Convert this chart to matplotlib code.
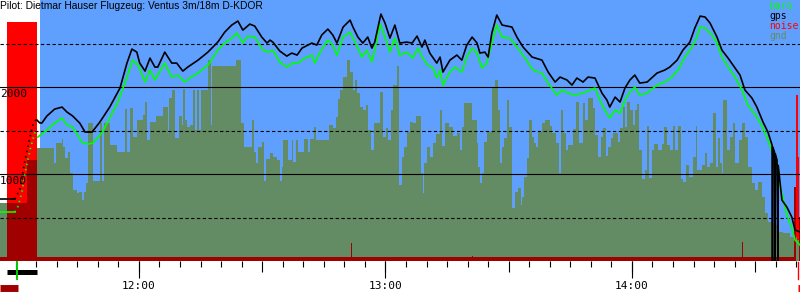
import numpy as np
import matplotlib
matplotlib.use("Agg")
import matplotlib.pyplot as plt
import matplotlib.transforms as mtrans
from matplotlib.ticker import FixedLocator, MultipleLocator, FuncFormatter, NullFormatter

# times are minutes after 12:00, altitudes in metres
title = "Pilot: Dietmar Hauser Flugzeug: Ventus 3m/18m D-KDOR"

gps_t = [-33.8, -30.2, -29.0, -27.7, -26.5, -25.8, -25.1, -24.8, -24.1, -23.6, -22.4, -20.5,
         -18.7, -17.5, -16.1, -14.4, -13.1, -11.4, -9.5, -7.1, -4.6, -2.9, -1.7, -0.5, 0.2, 1.5,
         2.7, 3.9, 4.6, 6.3, 8.0, 9.2, 10.7, 11.9, 14.4, 16.8, 19.2, 20.9, 22.6, 24.1, 25.3, 27.0,
         28.2, 29.9, 31.2, 31.9, 32.6, 34.3, 36.0, 37.2, 38.5, 39.7, 42.1, 43.3, 44.5, 46.0, 47.2,
         48.2, 49.7, 51.4, 52.1, 53.3, 54.5, 55.7, 56.7, 57.4, 58.9, 59.9, 61.1, 62.3, 63.5, 65.2,
         66.5, 67.7, 68.9, 69.6, 70.8, 72.5, 73.3, 74.0, 75.7, 77.4, 78.6, 79.8, 81.1, 82.3, 83.0,
         84.2, 85.0, 85.9, 87.1, 88.4, 90.8, 92.0, 93.5, 95.7, 98.1, 99.6, 101.3, 102.5, 104.2,
         105.4, 106.6, 108.1, 109.3, 111.0, 112.7, 113.9, 114.6, 115.9, 117.1, 118.3, 119.5, 120.7,
         121.9, 123.7, 126.1, 128.0, 129.2, 131.0, 132.4, 134.1, 135.3, 136.6, 137.8, 139.0, 140.7,
         141.9, 143.4, 145.1, 146.3, 147.5, 149.2, 150.4, 151.9, 153.1, 154.1, 154.2, 154.3, 154.7,
         154.8, 154.9, 155.3, 155.5, 155.6, 156.5, 157.7, 158.9, 159.7, 160.9]
gps_alt = [712, 712, 816, 1160, 1425, 1563, 1620, 1620, 1586, 1586, 1666, 1746,
           1769, 1712, 1666, 1586, 1482, 1482, 1597, 1769, 1988, 2275, 2436, 2401, 2275, 2183,
           2332, 2229, 2229, 2401, 2275, 2275, 2183, 2229, 2309, 2401, 2516, 2631, 2712, 2758, 2654, 2723,
           2700, 2574, 2505, 2539, 2516, 2413, 2355, 2390, 2367, 2447, 2505, 2482, 2597, 2666, 2597,
           2505, 2689, 2769, 2689, 2574, 2505, 2574, 2447, 2516, 2838, 2735, 2562, 2712, 2505, 2516,
           2505, 2585, 2459, 2539, 2390, 2275, 2344, 2172, 2309, 2367, 2309, 2482, 2574, 2505, 2390,
           2401, 2344, 2620, 2827, 2712, 2689, 2574, 2459, 2344, 2309, 2172, 2057, 2114, 2080,
           2022, 2103, 2057, 2114, 2103, 1930, 1850, 1769, 1884, 1827, 1988, 2080, 2137,
           2045, 2057, 2160, 2195, 2229, 2309, 2424, 2516, 2677, 2815, 2804, 2735, 2574,
           2424, 2332, 2218, 2137, 1965, 1873, 1769, 1597, 1482, 1333, 0, 1310, 1250,
           0, 1230, 1160, 0, 1100, 701, 620, 506, 356, 333]

baro_t = [-33.8, -30.2, -29.5, -28.5, -27.7, -26.5, -25.3, -24.6, -22.4, -20.5, -18.7, -17.5,
          -16.1, -13.9, -12.4, -11.2, -9.0, -7.1, -5.1, -2.9, -1.5, -0.2, 1.5, 2.7, 3.9, 5.6, 6.3,
          8.0, 9.5, 11.2, 12.4, 14.4, 16.8, 19.2, 20.9, 22.6, 23.9, 25.3, 26.5, 28.2, 30.2, 31.4,
          32.6, 34.3, 36.0, 37.5, 38.7, 40.4, 42.1, 42.8, 44.1, 46.0, 47.2, 48.2, 49.7, 51.4, 52.6,
          54.3, 55.5, 56.7, 57.4, 58.7, 59.9, 61.1, 62.3, 63.5, 65.2, 66.7, 67.9, 69.1, 70.3, 71.6,
          72.5, 73.3, 74.0, 75.7, 76.9, 78.6, 79.8, 81.1, 82.3, 83.5, 84.7, 85.9, 87.1, 88.4, 90.3,
          92.0, 94.0, 95.9, 98.1, 99.6, 101.7, 103.0, 104.4, 106.1, 108.1, 109.8, 111.0, 112.2,
          113.4, 114.6, 115.9, 117.1, 118.3, 119.5, 120.7, 121.9, 123.7, 126.1, 128.0, 129.7, 131.2,
          132.9, 134.6, 135.8, 136.6, 137.8, 139.5, 140.7, 141.9, 143.4, 145.1, 146.8, 148.2, 150.4,
          151.9, 153.6, 154.8, 156.0, 157.7, 158.9, 159.7, 160.9]
baro_alt = [563, 563, 620, 781, 1011, 1275, 1482, 1425, 1505, 1586, 1643, 1563,
            1540, 1367, 1344, 1356, 1471, 1643, 1827, 2114, 2309, 2252, 2057, 2195, 2080, 2218, 2275,
            2114, 2137, 2057, 2103, 2160, 2252, 2424, 2505, 2562, 2620, 2505, 2585, 2574, 2424, 2401,
            2424, 2287, 2229, 2275, 2275, 2332, 2367, 2275, 2401, 2539, 2482, 2367, 2574, 2631, 2516,
            2344, 2424, 2287, 2424, 2723, 2574, 2401, 2562, 2367, 2401, 2332, 2447, 2332, 2252, 2218,
            2103, 2195, 2022, 2172, 2229, 2172, 2344, 2447, 2390, 2218, 2275, 2505, 2712, 2574, 2562,
            2459, 2332, 2195, 2160, 2045, 1907, 1965, 1930, 1907, 1930, 1965, 1988, 1850,
            1735, 1643, 1735, 1700, 1850, 1942, 1999, 1907, 1930, 2022, 2057, 2114, 2195,
            2344, 2459, 2574, 2689, 2677, 2597, 2505, 2344, 2229, 2114, 1965, 1792, 1655,
            1528, 1330, 1160, 873, 529, 379, 241, 184]

# ground elevation below the track, stepwise (start time of each step)
gnd_t = [-33.8, -27.3, -24.8, -20.7, -20.2, -18.7, -18.5, -18.0, -17.3, -16.8, -16.1, -15.1, -14.6,
         -13.9, -13.4, -12.9, -12.4, -11.2, -9.5, -9.0, -8.5, -7.1, -5.4, -3.4, -2.9, -2.2, -1.5,
         -0.5, 1.0, 1.5, 1.9, 2.7, 4.1, 5.8, 7.1, 7.3, 8.0, 8.8, 9.7, 10.5, 10.7, 11.2, 11.7, 12.4,
         13.1, 13.6, 14.1, 14.6, 15.1, 16.8, 17.5, 17.8, 23.6, 24.8, 25.6, 27.5, 28.0, 28.5, 29.0,
         29.9, 30.4, 30.9, 31.9, 32.6, 33.6, 34.3, 34.8, 35.0, 36.3, 37.2, 37.5, 38.2, 38.7, 40.2,
         41.1, 41.6, 42.6, 43.1, 46.2, 47.2, 47.9, 48.4, 48.9, 49.7, 50.6, 51.4, 52.1, 52.6, 53.1,
         53.8, 54.5, 55.3, 55.7, 56.5, 57.2, 58.7, 59.4, 60.1, 60.6, 61.3, 61.8, 62.8, 63.3, 64.0,
         64.5, 65.2, 66.0, 66.7, 67.4, 68.6, 69.1, 69.4, 70.1, 70.8, 71.6, 72.3, 73.3, 73.7, 74.5,
         75.5, 76.4, 77.4, 78.1, 78.6, 79.1, 81.1, 82.3, 82.5, 83.0, 83.5, 84.0, 84.7, 85.9, 86.7,
         87.4, 87.9, 88.4, 88.8, 89.6, 90.1, 90.8, 91.5, 92.2, 93.0, 93.2, 93.7, 94.4, 94.9, 95.7,
         96.1, 96.6, 97.1, 98.1, 98.8, 100.0, 100.5, 101.5, 102.2, 102.7, 103.2, 103.9, 104.4,
         105.6, 106.4, 107.1, 108.1, 108.6, 109.3, 110.5, 111.0, 111.7, 112.5, 112.9, 113.7, 114.2,
         114.9, 115.4, 116.6, 117.1, 117.8, 118.3, 118.8, 119.5, 120.2, 120.7, 121.2, 121.7, 122.4,
         123.2, 123.6, 124.1, 124.9, 125.4, 126.3, 127.3, 127.8, 128.5, 129.2, 130.0, 130.5, 131.2,
         131.9, 132.4, 133.1, 133.9, 134.8, 135.6, 135.8, 137.0, 137.8, 138.3, 139.0, 139.7, 140.4,
         140.9, 141.4, 141.9, 142.1, 143.1, 143.8, 144.6, 145.1, 146.0, 146.8, 147.5, 148.2, 149.2,
         149.9, 150.7, 151.6, 152.4, 153.1, 154.1, 155.3, 156.8, 158.5, 160.2]
gnd_alt = [667, 1160, 1298, 1126, 1356, 1402, 1310, 1183, 1252, 1011, 816, 781, 793,
           701, 793, 896, 1586, 919, 1586, 919, 1586, 1333, 1252, 1746, 1252, 1758, 1425,
           1620, 1678, 1827, 1390, 1597, 1666, 1769, 1471, 1873, 1965, 1413, 1666, 1563, 1976, 1620, 1540, 1563,
           1965, 1505, 1965, 1505, 1965, 2309, 1563, 2241, 2309, 1586, 1310, 1620, 1252, 1126, 1310,
           1367, 919, 1172, 1241, 1195, 1160, 919, 1080, 1390, 1160, 1390, 1137, 1390, 1252, 1402,
           1252, 1402, 1540, 1390, 1563, 1528, 1655, 1861, 1965, 2114, 2309, 2172, 1965, 2080, 1930,
           1769, 1735, 1792, 1505, 1275, 1586, 1942, 1425, 1528, 1390, 1735, 2022, 2241, 873, 1195,
           1310, 1482, 1597, 1586, 1666, 1011, 781, 1126, 1310, 1195, 1356, 1459, 1735, 1321, 1586,
           1540, 1436, 1471, 1275, 1540, 1815, 1620, 1356, 1080, 896, 1011, 1367, 1482, 1999, 2080,
           1735, 1126, 1310, 1413, 1850, 1540, 609, 793, 839, 643, 735, 965, 1183, 1620, 1425,
           1356, 1310, 1482, 1586, 1620, 1551, 1471, 1356, 1011, 1735, 1471, 1275, 1333,
           1517, 1827, 1356, 1815, 1620, 1873, 1758, 1448, 1195, 1425, 1528, 1206, 1310,
           1413, 1471, 1367, 1528, 1769, 1540, 1827, 1735, 1563, 1735, 1804, 1275, 942,
           1046, 1551, 954, 1275, 1344, 1275, 1344, 1540, 1333, 1275, 1551, 1275, 1551,
           942, 908, 1103, 965, 1195, 1551, 1046, 1103, 1241, 1080, 1126, 1701, 1080,
           1413, 1126, 1011, 1850, 1275, 1425, 1586, 1126, 1390, 1586, 1425, 1080, 896,
           816, 908, 735, 552, 448, 414, 333, 322, 276, 241]

# engine noise level (0..1000), stepwise
noise_t = [-33.8, -32.1, -24.8, 32.8, 33.0, 51.7, 51.9, 81.0, 81.2, 146.9, 147.1, 159.5,
           160.0, 160.3, 160.5, 160.7]
noise_val = [15, 916, 15, 23, 15, 69, 15, 19, 15, 73, 15, 283, 636, 283, 398, 170]

t_start, t_end = -33.8, 160.9
sky_start = -24.1          # blue sky from here on
climb = (-30.2, -24.8)     # sparse fixes during the engine climb
takeoff_t = -29.7
log_bar = (-33.8, -29.4)
landing_t = 160.4
noise_limit = 300          # above this the noise is drawn bright red
levels_solid = [1000, 2000]
levels_dashed = [500, 1500, 2500]
alt_max = 3000

sky = "#5fa0ff"
gnd_col = "#648c64"
dark_red = "#a00000"
mono = "DejaVu Sans Mono"

fig = plt.figure(figsize=(8, 3), dpi=100)
ax = fig.add_axes([0, 39 / 300, 1, 261 / 300])
ax.set_xlim(t_start, t_end)
ax.set_ylim(0, alt_max)
for s in ax.spines.values():
    s.set_visible(False)
ax.set_yticks([])

ax.axvspan(sky_start, t_end, color=sky, lw=0, zorder=0)

# noise, bright part behind the ground
nt = np.append(noise_t, t_end)
nv = np.append(noise_val, noise_val[-1]) * alt_max / 1000.0
loud = np.where(nv > noise_limit * alt_max / 1000.0, nv, 0)
quiet = np.where(nv > noise_limit * alt_max / 1000.0, 0, nv)
ax.fill_between(nt, 0, loud, step="post", color="#ff0000", lw=0, zorder=1)

gt = np.append(gnd_t, t_end)
ga = np.append(gnd_alt, gnd_alt[-1])
ax.fill_between(gt, 0, ga, step="post", color=gnd_col, lw=0, zorder=2)

# ground under the engine run shows dark red
eng_start, eng_end = noise_t[1], noise_t[2]
inner = gt[(gt > eng_start) & (gt < eng_end)]
et = np.concatenate([[eng_start], inner, [eng_end]])
ea = ga[np.searchsorted(gt, et, side="right") - 1]
ax.fill_between(et, 0, ea, step="post", color=dark_red, lw=0, zorder=2.1)

ax.fill_between(nt, 0, quiet, step="post", color=dark_red, lw=0, zorder=3)

for lv in levels_solid:
    ax.axhline(lv, color="black", lw=0.8, zorder=4)
for lv in levels_dashed:
    ax.axhline(lv, color="black", lw=0.8, ls=(0, (3, 2.2)), zorder=4)

# flight lines, dotted where the fixes are sparse
def draw(t, a, col):
    t = np.asarray(t); a = np.asarray(a)
    pre = t <= climb[0]
    mid = (t >= climb[0]) & (t <= climb[1])
    post = t >= climb[1] - 0.01
    ax.plot(t[pre], a[pre], color=col, lw=1.2, zorder=5)
    ax.plot(t[mid], a[mid], color=col, lw=1.3, ls=(0, (0.8, 2.2)), zorder=5)
    ax.plot(t[post], a[post], color=col, lw=1.2, zorder=5)

draw(baro_t, baro_alt, "#00ff00")
draw(gps_t, gps_alt, "black")

for lv in levels_solid:
    ax.annotate(str(lv), xy=(0, lv), xycoords=("axes fraction", "data"), xytext=(0, -1.5),
                textcoords="offset points", ha="left", va="top", fontsize=8,
                family=mono, zorder=6)

# time axis: 5 min, half hour and hour ticks
fmt = FuncFormatter(lambda m, p: "%d:%02d" % divmod(int(round(12 * 60 + m)), 60))
ax.xaxis.set_major_locator(MultipleLocator(30))
ax.xaxis.set_minor_locator(MultipleLocator(5))
ax.xaxis.set_major_formatter(NullFormatter())
ax.tick_params(axis="x", which="major", length=8, width=0.8, color="black")
ax.tick_params(axis="x", which="minor", length=4.3, width=0.8, color="black")
sec = ax.secondary_xaxis("bottom")
sec.xaxis.set_major_locator(FixedLocator([0, 60, 120]))
sec.xaxis.set_major_formatter(fmt)
sec.tick_params(length=12.2, width=0.8, pad=2.5, labelsize=8)
for lab in sec.get_xticklabels():
    lab.set_family(mono)
for s in sec.spines.values():
    s.set_visible(False)

# engine / takeoff markers under the axis
trans = mtrans.blended_transform_factory(ax.transData, ax.transAxes)
ax.plot([eng_start, eng_end], [-0.044, -0.044], transform=trans, clip_on=False,
        color="black", lw=3.6, solid_capstyle="butt")
ax.plot([takeoff_t, takeoff_t], [-0.004, -0.069], transform=trans, clip_on=False,
        color="#00cc00", lw=1.4)
ax.plot(log_bar, [-0.105, -0.105], transform=trans, clip_on=False,
        color=dark_red, lw=5, solid_capstyle="butt")
ax.plot([landing_t, landing_t], [-0.004, -0.069], transform=trans, clip_on=False,
        color="#ff0000", lw=1.0)
ax.plot([landing_t, t_end + 1], [-0.105, -0.105], transform=trans, clip_on=False,
        color="#ff0000", lw=5, solid_capstyle="butt")

fig.text(0.0, 1 - 1 / 300, title, ha="left", va="top", fontsize=7.4, family="Liberation Sans")
legend = [("baro", "#00ff00"), ("gps", "black"), ("noise", "#ff0000"), ("gnd", gnd_col)]
for i, (name, col) in enumerate(legend):
    fig.text(769 / 800, 1 - (1 + 10 * i) / 300, name, ha="left", va="top", fontsize=7,
             family=mono, color=col)

fig.savefig("out.png", dpi=100)
